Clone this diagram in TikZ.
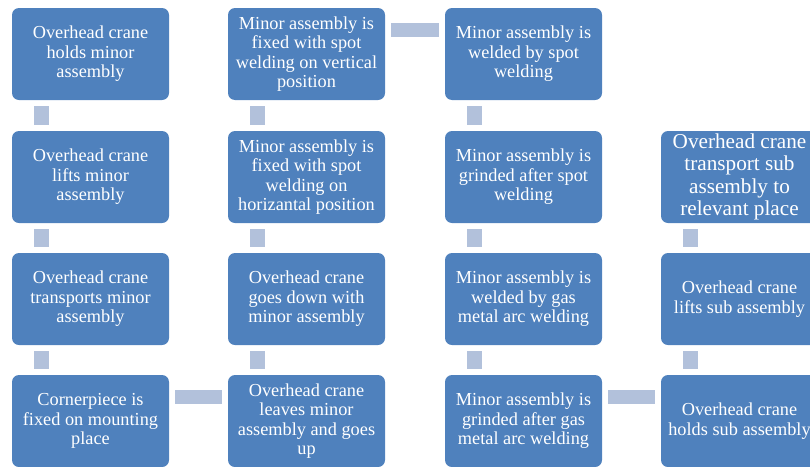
\documentclass[tikz,border=0pt]{standalone}
\usepackage{fontspec}
\setmainfont{Liberation Serif}
\usepackage{xcolor}
\usetikzlibrary{calc}
\definecolor{boxblue}{RGB}{79,129,189}
\definecolor{linkblue}{RGB}{178,193,219}
\tikzset{
  stepbox/.style={fill=boxblue,rounded corners=7pt,minimum width=157pt,minimum height=92pt,
    inner sep=0pt,text=white,align=center,font=\fontsize{18.3}{19.5}\selectfont},
  bigtext/.style={font=\fontsize{21.2}{22.5}\selectfont},
  link/.style={fill=linkblue}
}

\begin{document}
\begin{tikzpicture}[x=1pt,y=-1pt]
  \useasboundingbox (0,0) rectangle (810,466);
  % first column
  \node[stepbox] (c1r1) at (90.5,54) {Overhead crane\\holds minor\\assembly};
  \node[stepbox] (c1r2) at (90.5,177) {Overhead crane\\lifts minor\\assembly};
  \node[stepbox] (c1r3) at (90.5,299) {Overhead crane\\transports minor\\assembly};
  \node[stepbox] (c1r4) at (90.5,421) {Cornerpiece is\\fixed on mounting\\place};
  % second column
  \node[stepbox] (c2r1) at (306.5,54) {Minor assembly is\\fixed with spot\\welding on vertical\\position};
  \node[stepbox] (c2r2) at (306.5,177) {Minor assembly is\\fixed with spot\\welding on\\horizantal position};
  \node[stepbox] (c2r3) at (306.5,299) {Overhead crane\\goes down with\\minor assembly};
  \node[stepbox] (c2r4) at (306.5,421) {Overhead crane\\leaves minor\\assembly and goes\\up};
  % third column
  \node[stepbox] (c3r1) at (523.5,54) {Minor assembly is\\welded by spot\\welding};
  \node[stepbox] (c3r2) at (523.5,177) {Minor assembly is\\grinded after spot\\welding};
  \node[stepbox] (c3r3) at (523.5,299) {Minor assembly is\\welded by gas\\metal arc welding};
  \node[stepbox] (c3r4) at (523.5,421) {Minor assembly is\\grinded after gas\\metal arc welding};
  % fourth column
  \node[stepbox,bigtext] (c4r2) at (739.5,177) {Overhead crane\\transport sub\\assembly to\\relevant place};
  \node[stepbox] (c4r3) at (739.5,299) {Overhead crane\\lifts sub assembly};
  \node[stepbox] (c4r4) at (739.5,421) {Overhead crane\\holds sub assembly};
  % links in a column
  \foreach \a/\b in {c1r1/c1r2,c1r2/c1r3,c1r3/c1r4,c2r1/c2r2,c2r2/c2r3,c2r3/c2r4,
                     c3r1/c3r2,c3r2/c3r3,c3r3/c3r4,c4r2/c4r3,c4r3/c4r4}
    \fill[link] ($(\a.south west)+(22,6)$) rectangle ($(\b.north west)+(37,-6)$);
  % links between columns
  \foreach \a/\b in {c1r4/c2r4,c2r1/c3r1,c3r4/c4r4}
    \fill[link] ($(\a.north east)+(5.5,15)$) rectangle ($(\b.north west)+(-5.5,29)$);
\end{tikzpicture}
\end{document}
